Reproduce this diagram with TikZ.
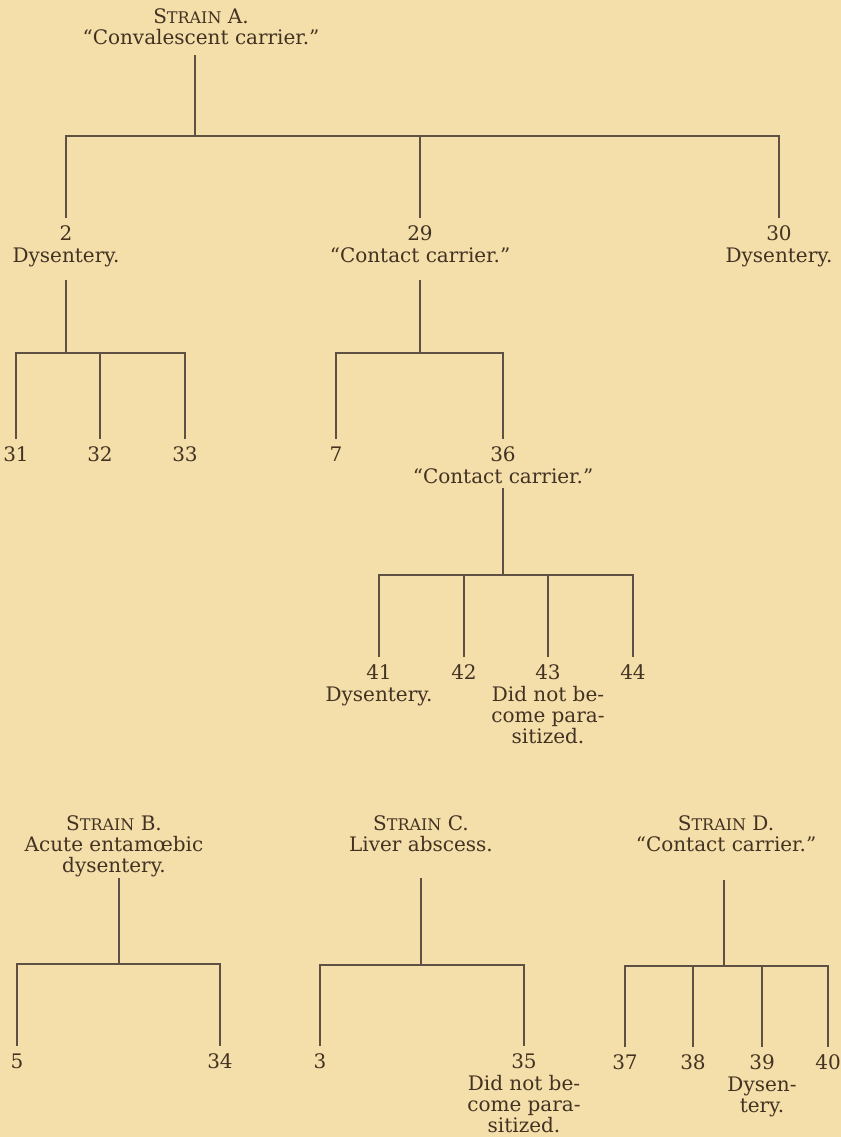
\documentclass[tikz,border=0pt]{standalone}
\usepackage{fontspec}
\setmainfont{DejaVu Serif}

\definecolor{paper}{RGB}{244,222,170}
\definecolor{ink}{RGB}{66,50,34}

\newcommand{\strainname}[1]{S{\fontsize{8}{10.6}\selectfont TRAIN} #1.}

\tikzset{
  head/.style={anchor=north, inner sep=0pt, align=center},
  leaf/.style={anchor=north, inner sep=0pt, outer sep=4pt, align=center},
  branch/.style={draw=ink!85, line width=0.6pt},
}

\begin{document}
\begin{tikzpicture}[x=0.5pt, y=-0.5pt, font=\fontsize{10}{10.6}\selectfont, text=ink]

  \fill[paper] (0,0) rectangle (841,1137);
  \useasboundingbox (0,0) rectangle (841,1137);

  % Strain A
  \node[head] (sA) at (201,8) {\strainname{A}\\``Convalescent carrier.''};
  \coordinate (stA) at (195,55);
  \coordinate (barA) at (0,136);

  \node[leaf] (n2)  at (66,218)  {2\\Dysentery.};
  \node[leaf] (n29) at (420,218) {29\\``Contact carrier.''};
  \node[leaf] (n30) at (779,218) {30\\Dysentery.};

  \draw[branch] (stA) -- (stA |- barA) -| (n2.north)
                (stA |- barA) -| (n29.north)
                (stA |- barA) -| (n30.north);

  % children of 2
  \coordinate (st2) at (66,280);
  \coordinate (bar2) at (0,353);

  \node[leaf] (n31) at (16,439)  {31};
  \node[leaf] (n32) at (100,439) {32};
  \node[leaf] (n33) at (185,439) {33};

  \draw[branch] (st2) -- (st2 |- bar2) -| (n31.north)
                (st2 |- bar2) -| (n32.north)
                (st2 |- bar2) -| (n33.north);

  % children of 29
  \coordinate (st29) at (420,280);
  \coordinate (bar29) at (0,353);

  \node[leaf] (n7)  at (336,439) {7};
  \node[leaf] (n36) at (503,439) {36\\``Contact carrier.''};

  \draw[branch] (st29) -- (st29 |- bar29) -| (n7.north)
                (st29 |- bar29) -| (n36.north);

  % children of 36
  \coordinate (st36) at (503,488);
  \coordinate (bar36) at (0,575);

  \node[leaf] (n41) at (379,657) {41\\Dysentery.};
  \node[leaf] (n42) at (464,657) {42};
  \node[leaf] (n43) at (548,657) {43\\Did not be-\\come para-\\sitized.};
  \node[leaf] (n44) at (633,657) {44};

  \draw[branch] (st36) -- (st36 |- bar36) -| (n41.north)
                (st36 |- bar36) -| (n42.north)
                (st36 |- bar36) -| (n43.north)
                (st36 |- bar36) -| (n44.north);

  % Strain B
  \node[head] (sB) at (114,815) {\strainname{B}\\Acute entamœbic\\dysentery.};
  \coordinate (stB) at (119,878);
  \coordinate (barB) at (0,964);

  \node[leaf] (n5)  at (17,1046)  {5};
  \node[leaf] (n34) at (220,1046) {34};

  \draw[branch] (stB) -- (stB |- barB) -| (n5.north)
                (stB |- barB) -| (n34.north);

  % Strain C
  \node[head] (sC) at (421,815) {\strainname{C}\\Liver abscess.};
  \coordinate (stC) at (421,878);
  \coordinate (barC) at (0,965);

  \node[leaf] (n3)  at (320,1046) {3};
  \node[leaf] (n35) at (524,1046) {35\\Did not be-\\come para-\\sitized.};

  \draw[branch] (stC) -- (stC |- barC) -| (n3.north)
                (stC |- barC) -| (n35.north);

  % Strain D
  \node[head] (sD) at (726,815) {\strainname{D}\\``Contact carrier.''};
  \coordinate (stD) at (724,880);
  \coordinate (barD) at (0,966);

  \node[leaf] (n37) at (625,1047) {37};
  \node[leaf] (n38) at (693,1047) {38};
  \node[leaf] (n39) at (762,1047) {39\\Dysen-\\tery.};
  \node[leaf] (n40) at (828,1047) {40};

  \draw[branch] (stD) -- (stD |- barD) -| (n37.north)
                (stD |- barD) -| (n38.north)
                (stD |- barD) -| (n39.north)
                (stD |- barD) -| (n40.north);

\end{tikzpicture}
\end{document}
